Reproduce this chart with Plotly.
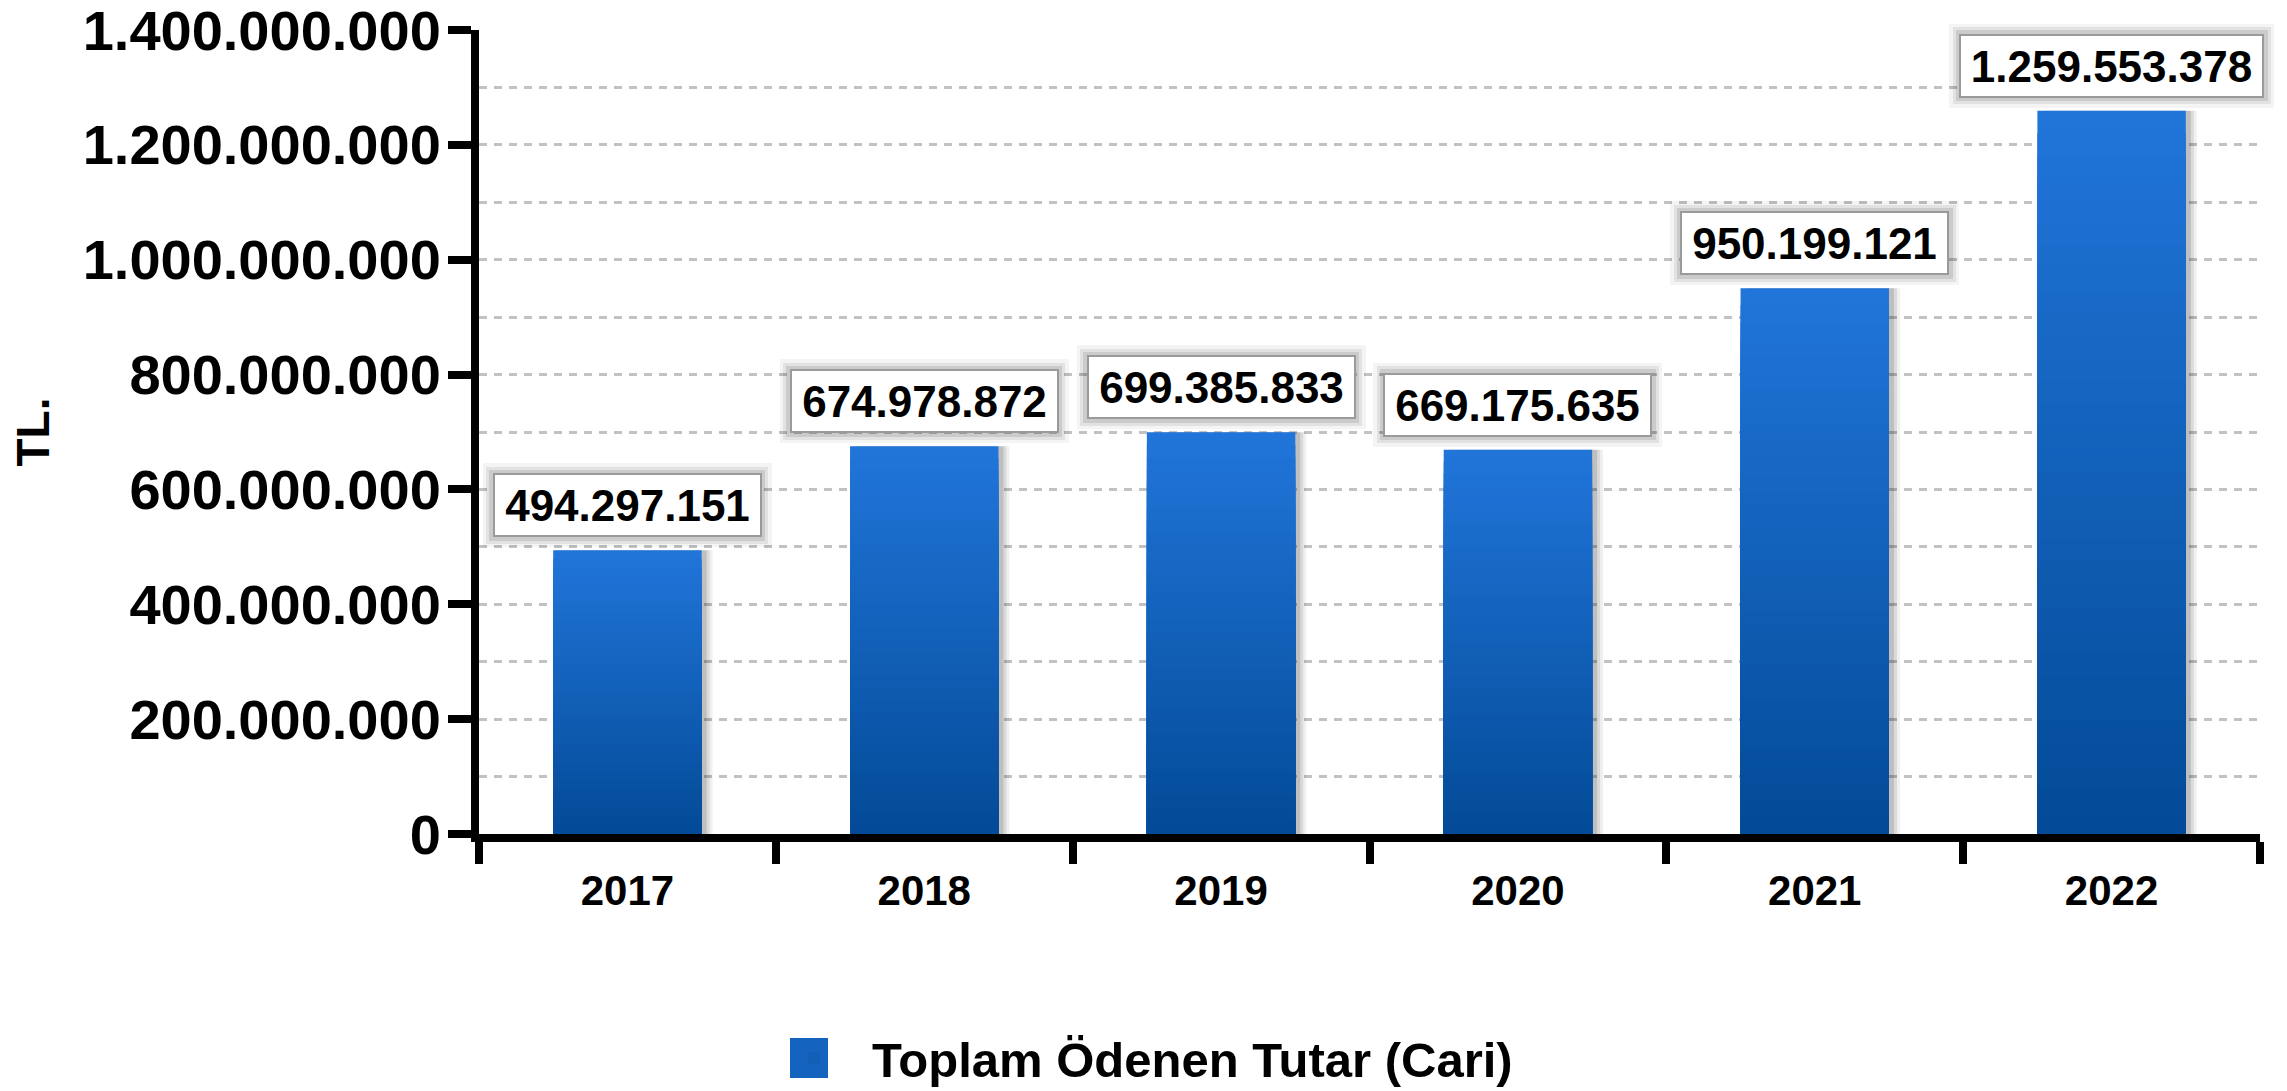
import plotly.graph_objects as go

# ---- data ----
years = ["2017", "2018", "2019", "2020", "2021", "2022"]
values = [494297151, 674978872, 699385833, 669175635, 950199121, 1259553378]
series_name = "Toplam Ödenen Tutar (Cari)"
y_title = "TL."
y_tickvals = [0, 200000000, 400000000, 600000000, 800000000, 1000000000, 1200000000, 1400000000]

def fmt(v):
    return f"{v:,}".replace(",", ".")

y_ticktext = [fmt(v) for v in y_tickvals]

FONT = "Liberation Sans, Arial, sans-serif"
TOP = (33, 117, 217)
BOT = (3, 75, 152)

fig = go.Figure()

# soft shadow to the right of bars
for k, a in [(11, 0.06), (8, 0.09), (5, 0.12)]:
    fig.add_trace(go.Bar(
        x=years, y=values, width=0.5, offset=-0.25 + k * 0.5 / 148,
        marker=dict(color=f"rgba(0,0,0,{a})", line=dict(width=0)),
        showlegend=False, hoverinfo="skip"))

# vertical gradient built from stacked overlay layers
N = 32
for i in range(N):
    f = 1 - i / N
    t = i / (N - 1)
    c = tuple(round(TOP[j] + (BOT[j] - TOP[j]) * t) for j in range(3))
    col = f"rgb{c}"
    is_leg = (i == N // 2)
    fig.add_trace(go.Bar(
        x=years, y=[v * f for v in values], width=0.5,
        marker=dict(color=col, line=dict(width=0)),
        name=series_name, showlegend=is_leg,
        hoverinfo="skip" if i else None,
        hovertemplate=None if i else "%{x}: %{y:,d}<extra></extra>"))

LBL_FONT = 44
BOX_H = 50
PAD, BW = 5, 2
GAP = 13

def text_w(s):
    return sum(0.278 if ch == "." else 0.556 for ch in s) * LBL_FONT

annotations = []
for idx, v in enumerate(values):
    s = fmt(v)
    w = round(text_w(s)) + 10
    outer_w = w + 2 * (PAD + BW)
    outer_h = BOX_H + 2 * (PAD + BW)
    # soft glow around the label box (empty boxes)
    for gw, ga in [(20, 0.045), (13, 0.07), (7, 0.10)]:
        annotations.append(dict(
            x=idx, y=v, xref="x", yref="y", yanchor="bottom",
            yshift=GAP - gw / 2, width=outer_w - gw, height=outer_h - gw,
            text=" ", showarrow=False,
            font=dict(family=FONT, size=10, color="rgba(0,0,0,0)"),
            bgcolor="rgba(0,0,0,0)", bordercolor=f"rgba(0,0,0,{ga})",
            borderwidth=gw, borderpad=0))
    annotations.append(dict(
        x=idx, y=v, xref="x", yref="y", yanchor="bottom", yshift=GAP,
        width=w, height=BOX_H,
        text=s, showarrow=False,
        font=dict(family=FONT, size=LBL_FONT, color="black", weight="bold"),
        bgcolor="white", bordercolor="#9a9a9a",
        borderwidth=BW, borderpad=PAD))

L, R, T, B = 479, 27, 30, 257
W, H = 2287, 1091
pw, ph = W - L - R, H - T - B

def px_x(p):
    return (p - L) / pw

def px_y(p):
    return (H - B - p) / ph

shapes = [dict(type="rect", xref="paper", yref="paper",
               x0=px_x(790), x1=px_x(828), y0=px_y(1078), y1=px_y(1038),
               fillcolor="rgb(20,99,190)", line=dict(width=0), layer="above")]

fig.update_layout(
    width=W, height=H,
    margin=dict(l=L, r=R, t=T, b=B),
    barmode="overlay",
    plot_bgcolor="white", paper_bgcolor="white",
    separators=",.",
    font=dict(family=FONT, color="black"),
    annotations=annotations,
    shapes=shapes,
    legend=dict(orientation="h", xref="container", yref="container",
                x=756 / W, xanchor="left",
                y=1 - 1058 / H, yanchor="middle",
                font=dict(family=FONT, size=49, color="black", weight="bold"),
                itemwidth=106, bgcolor="rgba(0,0,0,0)"),
    showlegend=True,
)

fig.update_xaxes(
    type="category", categoryorder="array", categoryarray=years,
    range=[-0.5, 5.5], automargin=False,
    showline=True, linecolor="black", linewidth=8,
    ticks="outside", tickson="boundaries", ticklen=22, tickwidth=8, tickcolor="black",
    tickfont=dict(family=FONT, size=42, color="black", weight="bold"),
    ticklabelstandoff=13,
    showgrid=False, zeroline=False,
)

fig.update_yaxes(
    range=[0, 1400000000], automargin=False,
    tickvals=y_tickvals, ticktext=y_ticktext,
    showline=True, linecolor="black", linewidth=8,
    ticks="outside", ticklen=23, tickwidth=8, tickcolor="black",
    tickfont=dict(family=FONT, size=56, color="black", weight="bold"),
    ticklabelstandoff=-4, ticklabeloverflow="allow",
    showgrid=True, gridcolor="#c2c2c2", gridwidth=3, griddash="8px,7px",
    minor=dict(dtick=100000000, tick0=0, showgrid=True, gridcolor="#c2c2c2",
               gridwidth=3, griddash="8px,7px", ticks=""),
    zeroline=False,
    title=dict(text=y_title, standoff=22,
               font=dict(family=FONT, size=46, color="black", weight="bold")),
)

fig.write_html("out.html", include_plotlyjs=True, full_html=True,
               config={"displayModeBar": False},
               post_script="document.body.style.margin='0';document.body.style.overflow='hidden';")
